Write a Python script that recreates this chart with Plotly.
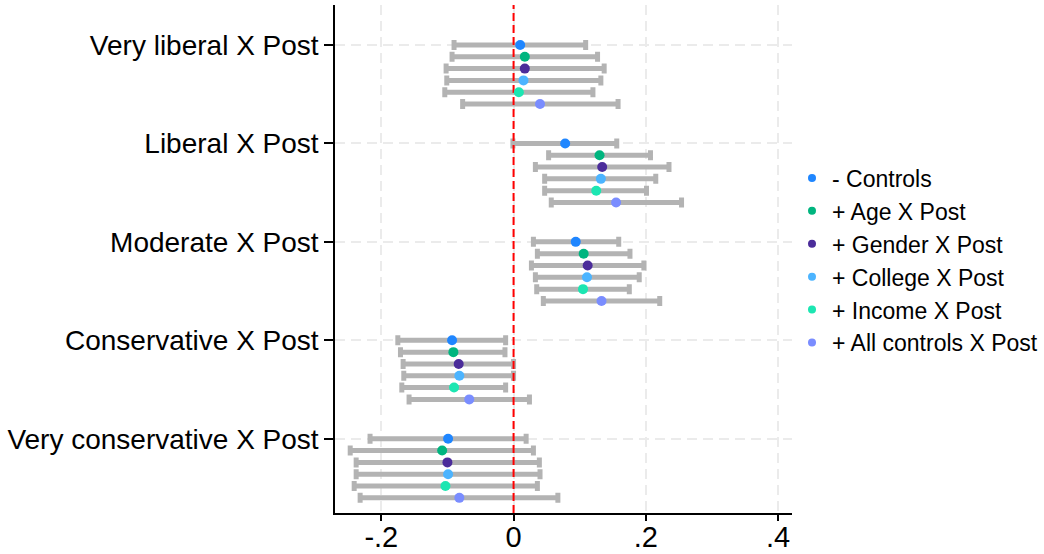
import plotly.graph_objects as go

# Interaction terms (top to bottom) and the six model specifications
categories = ["Very liberal X Post", "Liberal X Post", "Moderate X Post",
              "Conservative X Post", "Very conservative X Post"]
series_names = ["- Controls", "+ Age X Post", "+ Gender X Post",
                "+ College X Post", "+ Income X Post", "+ All controls X Post"]
series_colors = ["#1f86ff", "#00b57f", "#4b2c9a", "#4cb4ff", "#1ce6b2", "#7a8dff"]

# Point estimates
coef_controls = [0.010, 0.078, 0.094, -0.093, -0.099]
coef_age      = [0.017, 0.130, 0.106, -0.091, -0.108]
coef_gender   = [0.017, 0.134, 0.112, -0.083, -0.100]
coef_college  = [0.015, 0.132, 0.111, -0.082, -0.099]
coef_income   = [0.008, 0.125, 0.105, -0.090, -0.103]
coef_all      = [0.040, 0.155, 0.133, -0.067, -0.082]

# Lower confidence bounds
lo_controls = [-0.090, -0.001, 0.030, -0.175, -0.217]
lo_age      = [-0.093, 0.053, 0.036, -0.171, -0.247]
lo_gender   = [-0.102, 0.033, 0.027, -0.167, -0.238]
lo_college  = [-0.101, 0.047, 0.033, -0.166, -0.238]
lo_income   = [-0.104, 0.047, 0.035, -0.169, -0.241]
lo_all      = [-0.077, 0.057, 0.045, -0.158, -0.232]

# Upper confidence bounds
hi_controls = [0.109, 0.156, 0.159, -0.012, 0.019]
hi_age      = [0.127, 0.207, 0.176, -0.013, 0.030]
hi_gender   = [0.137, 0.235, 0.197, 0.000, 0.039]
hi_college  = [0.132, 0.215, 0.190, 0.000, 0.040]
hi_income   = [0.120, 0.201, 0.175, -0.012, 0.036]
hi_all      = [0.158, 0.254, 0.221, 0.024, 0.067]

# X axis ticks
x_tickvals = [-0.2, 0.0, 0.2, 0.4]
x_ticktext = ["-.2", "0", ".2", ".4"]

coefs = [coef_controls, coef_age, coef_gender, coef_college, coef_income, coef_all]
lows = [lo_controls, lo_age, lo_gender, lo_college, lo_income, lo_all]
highs = [hi_controls, hi_age, hi_gender, hi_college, hi_income, hi_all]

FONT = "Liberation Sans, Arial, sans-serif"
STEP = 0.12          # vertical offset between specifications within a group
Y_RANGE = [4.754, -0.406]

fig = go.Figure()

# Confidence intervals (gray bars with caps)
for j in range(len(series_names)):
    ys = [i + j * STEP for i in range(len(categories))]
    fig.add_trace(go.Scatter(
        x=coefs[j], y=ys, mode="markers",
        marker=dict(size=10, color="rgba(0,0,0,0)"),
        error_x=dict(type="data", symmetric=False,
                     array=[h - c for h, c in zip(highs[j], coefs[j])],
                     arrayminus=[c - l for c, l in zip(coefs[j], lows[j])],
                     color="#b3b3b3", thickness=5, width=5),
        showlegend=False, hoverinfo="skip"))

# Zero reference line
fig.add_trace(go.Scatter(
    x=[0, 0], y=Y_RANGE, mode="lines",
    line=dict(color="#ff0000", width=2, dash="8px,4px"),
    showlegend=False, hoverinfo="skip"))

# Point estimates
for j, name in enumerate(series_names):
    ys = [i + j * STEP for i in range(len(categories))]
    fig.add_trace(go.Scatter(
        x=coefs[j], y=ys, mode="markers", name=name,
        marker=dict(size=10, color=series_colors[j]),
        showlegend=False))

# Legend entries
for j, name in enumerate(series_names):
    fig.add_trace(go.Scatter(
        x=[None], y=[None], mode="markers", name=name,
        marker=dict(size=8, color=series_colors[j]),
        showlegend=True))

fig.update_layout(
    width=1044, height=554,
    margin=dict(l=335, r=252, t=5, b=41, autoexpand=False),
    paper_bgcolor="white", plot_bgcolor="white",
    font=dict(family=FONT, color="black"),
    legend=dict(x=1.0, y=0.497, xanchor="left", yanchor="middle",
                font=dict(size=23, family=FONT), bgcolor="rgba(0,0,0,0)",
                tracegroupgap=0),
)

fig.update_xaxes(
    range=[-0.270, 0.421], tickvals=x_tickvals, ticktext=x_ticktext,
    showline=True, linecolor="black", linewidth=1.5,
    ticks="outside", ticklen=6, tickwidth=1.5, tickcolor="black",
    tickfont=dict(size=29, family=FONT), automargin=False,
    ticklabelstandoff=-9,
    showgrid=True, gridcolor="#ebebeb", gridwidth=1.5, griddash="10px,6px",
    zeroline=False, mirror=False)

fig.update_yaxes(
    range=Y_RANGE, tickvals=list(range(len(categories))), ticktext=categories,
    showline=True, linecolor="black", linewidth=1.5,
    ticks="outside", ticklen=9, tickwidth=1.5, tickcolor="black",
    tickfont=dict(size=28, family=FONT), automargin=False,
    showgrid=True, gridcolor="#ebebeb", gridwidth=1.5, griddash="10px,6px",
    zeroline=False)

fig.write_html("out.html")
